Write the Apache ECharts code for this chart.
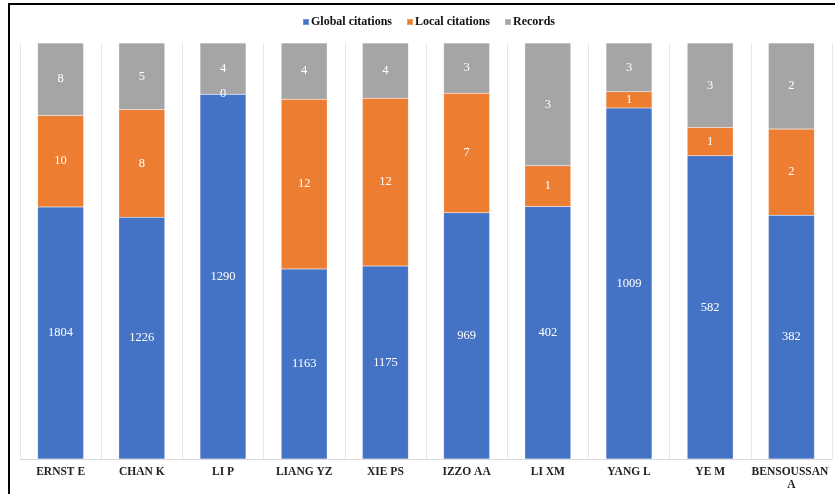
<!DOCTYPE html>
<html>
<head>
<meta charset="utf-8">
<script src="https://cdn.jsdelivr.net/npm/echarts@6/dist/echarts.min.js"></script>
<style>
html,body{margin:0;padding:0;background:#fff;overflow:hidden;}
#frame{position:absolute;left:8px;top:3px;width:840px;height:500px;border-top:2px solid #000;border-left:2px solid #000;box-sizing:border-box;}
#chart{position:absolute;left:0;top:0;width:835px;height:494px;}
</style>
</head>
<body>
<div id="frame"></div>
<div id="chart"></div>
<script>
// Categories (authors)
const authors = ['ERNST E','CHAN K','LI P','LIANG YZ','XIE PS','IZZO AA','LI XM','YANG L','YE M','BENSOUSSAN A'];
// Raw values shown as labels
const globalCitations = [1804, 1226, 1290, 1163, 1175, 969, 402, 1009, 582, 382];
const localCitations  = [10, 8, 0, 12, 12, 7, 1, 1, 1, 2];
const records         = [8, 5, 4, 4, 4, 3, 3, 3, 3, 2];
// Segment shares (% of bar height)
const globalShare = [60.6, 58.1, 87.7, 45.7, 46.4, 59.2, 60.7, 84.4, 72.9, 58.6];
const localShare  = [22.0, 25.9, 0.0, 40.8, 40.3, 28.7, 9.8, 3.9, 6.8, 20.7];
const recordShare = [17.4, 16.0, 12.3, 13.5, 13.3, 12.1, 29.5, 11.7, 20.3, 20.7];

const serif = '"Liberation Serif","Times New Roman",serif';
const chart = echarts.init(document.getElementById('chart'));

function series(name, shares, raw, color) {
  return {
    name: name,
    type: 'bar',
    stack: 'total',
    barWidth: 46,
    data: shares,
    itemStyle: { color: color, borderColor: 'rgba(255,255,255,0.25)', borderWidth: 0.5 },
    label: {
      show: true,
      position: 'inside',
      color: '#fff',
      fontFamily: serif,
      fontSize: 12.5,
      formatter: p => String(raw[p.dataIndex])
    },
    emphasis: { disabled: true }
  };
}

chart.setOption({
  animation: false,
  textStyle: { fontFamily: serif },
  legend: {
    left: 297,
    top: 11,
    itemWidth: 6,
    itemHeight: 6,
    itemGap: 14,
    icon: 'rect',
    textStyle: { fontFamily: serif, fontWeight: 'bold', fontSize: 12, color: '#111', padding: [0, 0, 0, -3] },
    data: ['Global citations', 'Local citations', 'Records']
  },
  grid: { left: 20, right: 3, top: 43, bottom: 35 },
  xAxis: {
    type: 'category',
    data: authors,
    axisLine: { show: true, lineStyle: { color: '#d9d9d9', width: 1 } },
    axisTick: { show: false },
    splitLine: { show: true, lineStyle: { color: '#e6e6e6', width: 1 } },
    axisLabel: {
      interval: 0,
      margin: 7,
      fontFamily: serif,
      fontWeight: 'bold',
      fontSize: 11.5,
      color: '#222',
      width: 80,
      overflow: 'break',
      lineHeight: 13
    }
  },
  yAxis: {
    type: 'value',
    min: 0,
    max: 100,
    show: false,
    splitLine: { show: false }
  },
  series: [
    series('Global citations', globalShare, globalCitations, '#4472C4'),
    series('Local citations', localShare, localCitations, '#ED7D31'),
    series('Records', recordShare, records, '#A5A5A5')
  ]
});
</script>
</body>
</html>
